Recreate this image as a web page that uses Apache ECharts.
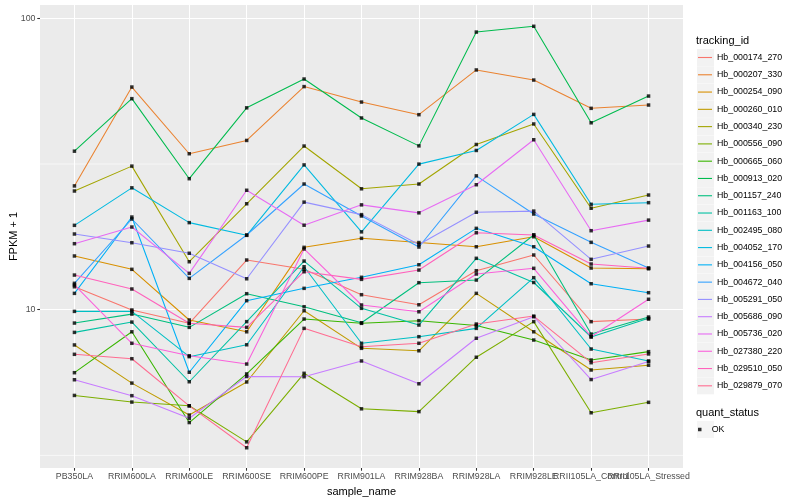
<!DOCTYPE html>
<html><head><meta charset="utf-8">
<script src="https://cdn.jsdelivr.net/npm/echarts@6/dist/echarts.min.js"></script>
<style>html,body{margin:0;padding:0;background:#fff}#c{width:800px;height:500px}</style>
</head><body><div id="c"></div>
<script>
const categories = ['PB350LA','RRIM600LA','RRIM600LE','RRIM600SE','RRIM600PE','RRIM901LA','RRIM928BA','RRIM928LA','RRIM928LE','RRII105LA_Control','RRII105LA_Stressed'];
const trackingIds = ['Hb_000174_270','Hb_000207_330','Hb_000254_090','Hb_000260_010','Hb_000340_230','Hb_000556_090','Hb_000665_060','Hb_000913_020','Hb_001157_240','Hb_001163_100','Hb_002495_080','Hb_004052_170','Hb_004156_050','Hb_004672_040','Hb_005291_050','Hb_005686_090','Hb_005736_020','Hb_027380_220','Hb_029510_050','Hb_029879_070'];
const colors = ['#F8766D','#EA8331','#D89000','#C09B00','#A3A500','#7CAE00','#39B600','#00BB4E','#00BF7D','#00C1A3','#00BFC4','#00BAE0','#00B0F6','#35A2FF','#9590FF','#C77CFF','#E76BF3','#FA62DB','#FF62BC','#FF6C91'];

const Hb_000174_270 = [11.99, 9.98, 8.98, 14.81, 13.76, 11.26, 10.40, 13.61, 15.41, 9.10, 9.29];
const Hb_000207_330 = [26.6, 58.1, 34.3, 38.1, 58.3, 51.6, 46.7, 66.5, 61.4, 49.1, 50.4];
const Hb_000254_090 = [15.29, 13.76, 9.22, 8.40, 16.37, 17.58, 17.0, 16.45, 17.8, 13.9, 13.82];
const Hb_000260_010 = [7.57, 5.60, 4.35, 5.65, 9.92, 7.37, 7.23, 11.38, 8.40, 6.21, 6.45];
const Hb_000340_230 = [25.55, 31.1, 14.61, 23.1, 36.45, 26.0, 27.0, 36.9, 43.4, 22.3, 24.75];
const Hb_000556_090 = [5.08, 4.82, 4.68, 3.52, 6.05, 4.57, 4.47, 6.87, 9.10, 4.43, 4.81];
const Hb_000665_060 = [6.08, 8.40, 4.10, 6.02, 9.29, 8.98, 9.17, 8.83, 7.87, 6.72, 7.18];
const Hb_000913_020 = [35.0, 53.0, 28.16, 49.3, 61.9, 45.5, 36.5, 89.7, 93.9, 43.8, 54.1];
const Hb_001157_240 = [9.00, 9.66, 8.70, 11.35, 10.24, 9.02, 12.38, 12.64, 18.05, 8.25, 9.44];
const Hb_001163_100 = [8.36, 9.07, 5.66, 9.10, 14.69, 10.11, 8.86, 15.01, 12.40, 8.06, 9.34];
const Hb_002495_080 = [9.87, 9.87, 6.90, 7.58, 14.04, 7.67, 8.08, 8.63, 12.88, 7.33, 6.67];
const Hb_004052_170 = [19.48, 26.2, 19.9, 18.0, 31.4, 18.5, 31.6, 35.2, 46.8, 23.0, 23.3];
const Hb_004156_050 = [11.38, 20.8, 6.10, 10.74, 11.84, 12.92, 14.27, 19.02, 16.45, 12.28, 11.44];
const Hb_004672_040 = [12.32, 20.48, 12.81, 18.05, 27.0, 20.97, 16.41, 28.8, 21.3, 17.03, 13.9];
const Hb_005291_050 = [18.19, 16.98, 15.62, 12.77, 23.4, 21.2, 16.74, 21.6, 21.8, 14.89, 16.54];
const Hb_005686_090 = [5.75, 5.07, 4.24, 5.90, 5.89, 6.67, 5.57, 7.98, 9.46, 5.76, 6.64];
const Hb_005736_020 = [16.85, 19.22, 13.33, 25.7, 19.5, 22.9, 21.5, 26.85, 38.3, 18.67, 20.3];
const Hb_027380_220 = [12.16, 7.67, 6.95, 6.51, 16.16, 10.38, 9.84, 13.26, 13.87, 8.08, 10.86];
const Hb_029510_050 = [13.15, 11.78, 8.98, 8.70, 13.5, 12.71, 13.68, 18.37, 18.05, 14.35, 13.87];
const Hb_029879_070 = [7.03, 6.79, 4.68, 3.36, 8.63, 7.46, 7.67, 8.93, 9.51, 6.58, 7.05];

const yTickLabels = [10, 100];
const yMinorBreaks = [3.1623, 31.623];
const quantStatus = 'OK';

const seriesValues = [Hb_000174_270,Hb_000207_330,Hb_000254_090,Hb_000260_010,Hb_000340_230,Hb_000556_090,Hb_000665_060,Hb_000913_020,Hb_001157_240,Hb_001163_100,Hb_002495_080,Hb_004052_170,Hb_004156_050,Hb_004672_040,Hb_005291_050,Hb_005686_090,Hb_005736_020,Hb_027380_220,Hb_029510_050,Hb_029879_070];

const FONT = 'Liberation Sans';
const X_MIN = -0.6, X_MAX = 10.6, Y_MIN = 2.863, Y_MAX = 111.1;
const evenIdx = categories.map((c, i) => i).filter(i => i % 2 === 0);
const oddIdx = categories.map((c, i) => i).filter(i => i % 2 === 1);

const lineSeries = trackingIds.map((id, k) => ({
  name: id, type: 'line', color: colors[k],
  data: seriesValues[k].map((v, i) => [i, v]),
  showSymbol: false, silent: true, z: 2,
  lineStyle: { width: 1.07, color: colors[k] }
}));
const pointData = [];
seriesValues.forEach(arr => arr.forEach((v, i) => pointData.push([i, v])));

const minorGridSeries = yMinorBreaks.map((v, j) => ({
  name: '_minor' + j, type: 'line', silent: true, z: 1, showSymbol: false, symbol: 'none',
  data: [[X_MIN, v], [X_MAX, v]],
  lineStyle: { color: '#FFFFFF', width: 0.6 }, color: '#FFFFFF'
}));

function xAxisBase(idx, withName) {
  const ax = {
    type: 'value', min: X_MIN, max: X_MAX, position: 'bottom', offset: 0,
    axisLine: { show: false, onZero: false },
    axisTick: { show: true, length: 2.74, customValues: idx, lineStyle: { color: '#333333', width: 1.07 } },
    axisLabel: { customValues: idx, formatter: v => categories[Math.round(v)], fontSize: 8.8, color: '#4D4D4D', margin: 4.5, fontFamily: FONT,
      showMinLabel: true, showMaxLabel: true, hideOverlap: false },
    splitLine: { show: true, lineStyle: { color: '#FFFFFF', width: 1.07 } }
  };
  if (withName) {
    Object.assign(ax, { name: 'sample_name', nameLocation: 'middle', nameGap: 14,
      nameTextStyle: { fontSize: 11, color: '#000', fontFamily: FONT } });
  }
  return ax;
}

const option = {
  animation: false,
  backgroundColor: '#fff',
  textStyle: { fontFamily: FONT },
  grid: { left: 40, top: 5, width: 643, height: 463, show: true, backgroundColor: '#EBEBEB', borderWidth: 0, containLabel: false, outerBoundsMode: 'none' },
  title: [
    { text: 'tracking_id', left: 696, top: 34, padding: 0, textStyle: { fontSize: 11, fontWeight: 'normal', color: '#000', fontFamily: FONT, lineHeight: 13 } },
    { text: 'quant_status', left: 696, top: 406, padding: 0, textStyle: { fontSize: 11, fontWeight: 'normal', color: '#000', fontFamily: FONT, lineHeight: 13 } }
  ],
  legend: [
    { orient: 'vertical', left: 697, top: 49, padding: 0, itemGap: 0.28, itemWidth: 17, itemHeight: 17, icon: 'rect', selectedMode: false,
      formatter: () => '', textStyle: { fontSize: 6 }, itemStyle: { color: '#F2F2F2', borderWidth: 0 },
      data: trackingIds.map(id => ({ name: id, itemStyle: { color: '#F2F2F2', borderWidth: 0 } })) },
    { orient: 'vertical', left: 698, top: 49, padding: 0, itemGap: 0.28, itemWidth: 14, itemHeight: 1.1, icon: 'rect', selectedMode: false,
      textStyle: { fontSize: 8.8, lineHeight: 17, color: '#000', fontFamily: FONT },
      data: trackingIds.map((id, k) => ({ name: id, itemStyle: { color: colors[k], borderWidth: 0 } })) },
    { orient: 'vertical', left: 697, top: 421, padding: 0, itemWidth: 17, itemHeight: 17, icon: 'rect', selectedMode: false,
      formatter: () => '', textStyle: { fontSize: 6 },
      data: [{ name: quantStatus, itemStyle: { color: '#F2F2F2', borderWidth: 0 } }] },
    { orient: 'vertical', left: 698, top: 421, padding: 0, itemWidth: 14, itemHeight: 3.5, icon: 'path://M0,0h1v1h-1z', selectedMode: false,
      textStyle: { fontSize: 8.8, lineHeight: 17, color: '#000', fontFamily: FONT },
      data: [{ name: quantStatus, itemStyle: { color: '#000', borderWidth: 0 } }] }
  ],
  xAxis: [xAxisBase(evenIdx, true), xAxisBase(oddIdx, false)],
  yAxis: {
    type: 'log', logBase: 10, min: Y_MIN, max: Y_MAX, position: 'left',
    name: 'FPKM + 1', nameLocation: 'middle', nameGap: 21, nameRotate: 90, nameMoveOverlap: false,
    nameTextStyle: { fontSize: 11, color: '#000', fontFamily: FONT },
    axisLine: { show: false, onZero: false },
    axisTick: { show: true, length: 2.74, customValues: yTickLabels, lineStyle: { color: '#333333', width: 1.07 } },
    axisLabel: { customValues: yTickLabels, formatter: v => String(Math.round(v)), fontSize: 8.8, color: '#4D4D4D', margin: 4.5, fontFamily: FONT,
      showMinLabel: true, showMaxLabel: true },
    splitLine: { show: true, lineStyle: { color: '#FFFFFF', width: 1.07 } }
  },
  series: minorGridSeries.concat(lineSeries).concat([{
    name: quantStatus, type: 'scatter', data: pointData, symbol: 'rect', symbolSize: 3.5,
    itemStyle: { color: '#000' }, silent: true, z: 3
  }])
};
const chart = echarts.init(document.getElementById('c'), null, { renderer: 'canvas' });
chart.setOption(option);
</script>
</body></html>
